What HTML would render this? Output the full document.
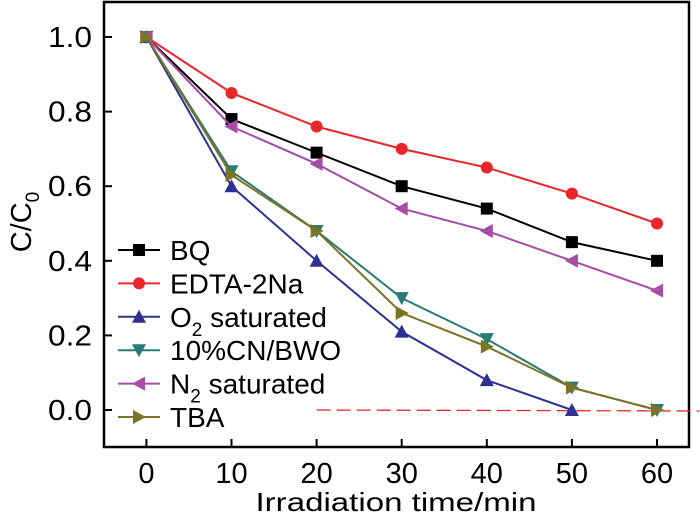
<!DOCTYPE html>
<html><head><meta charset="utf-8"><style>
body{margin:0;background:#fff}
svg{display:block;font-family:"Liberation Sans",sans-serif}
</style></head><body>
<svg id="chart" width="700" height="521"></svg>
<script>
const xValues=[0,10,20,30,40,50,60];
const bq=[1,0.78,0.69,0.60,0.54,0.45,0.40];
const edta=[1,0.85,0.76,0.70,0.65,0.58,0.50];
const o2=[1,0.60,0.40,0.21,0.08,0.0];
const cnbwo=[1,0.64,0.48,0.30,0.19,0.06,0.0];
const n2=[1,0.76,0.66,0.54,0.48,0.40,0.32];
const tba=[1,0.63,0.48,0.26,0.17,0.06,0.0];
const xTicks=[0,10,20,30,40,50,60];
const yTicks=[0.0,0.2,0.4,0.6,0.8,1.0];
const refLine=[20,65,0];
const NS="http://www.w3.org/2000/svg";
const svg=document.getElementById('chart');
const X=v=>146.4+v*8.51, Y=v=>410-v*373;
function el(t,a,p){const e=document.createElementNS(NS,t);for(const k in a)e.setAttribute(k,a[k]);(p||svg).appendChild(e);return e;}
const frame=el('rect',{x:104,y:2,width:585,height:445,fill:'none',stroke:'#000','stroke-width':2.5});


xTicks.forEach(t=>{
  const l=el('line',{x1:X(t),x2:X(t),y1:439,y2:447,stroke:'#000','stroke-width':2});
  
  
  const tx=el('text',{x:X(t),y:483,'text-anchor':'middle','font-size':29});
  tx.textContent=t;
  
  
});
yTicks.forEach(t=>{
  const l=el('line',{x1:104,x2:112,y1:Y(t),y2:Y(t),stroke:'#000','stroke-width':2});
  
  
  const tx=el('text',{x:92,y:Y(t)+10,'text-anchor':'end','font-size':29,textLength:44,lengthAdjust:'spacingAndGlyphs'});
  tx.textContent=t.toFixed(1);
  
  
});
const xt=el('text',{x:396,y:511,'text-anchor':'middle','font-size':26,textLength:281,lengthAdjust:'spacingAndGlyphs'});
xt.textContent='Irradiation time/min';


const yt=el('text',{transform:'translate(31,222) rotate(-90)','text-anchor':'middle','font-size':29});
yt.innerHTML='C/C<tspan font-size="19" dy="8">0</tspan>';


const rl=el('line',{x1:X(refLine[0]),x2:X(refLine[1]),y1:Y(refLine[2]),y2:Y(refLine[2])+1,stroke:'#e8262b','stroke-width':1.3,'stroke-dasharray':'14,6'});


function marker(kind,x,y,c,g){
  const s=6;let e;
  if(kind==='sq')e=el('rect',{x:x-s,y:y-s,width:2*s,height:2*s,fill:c},g);
  else if(kind==='ci')e=el('circle',{cx:x,cy:y,r:s,fill:c},g);
  else{let p;
    if(kind==='up')p=[[x,y-s-1],[x-s-1,y+s],[x+s+1,y+s]];
    if(kind==='dn')p=[[x,y+s+1],[x-s-1,y-s],[x+s+1,y-s]];
    if(kind==='lf')p=[[x-s-1,y],[x+s,y-s-1],[x+s,y+s+1]];
    if(kind==='rt')p=[[x+s+1,y],[x-s,y-s-1],[x-s,y+s+1]];
    e=el('polygon',{points:p.map(q=>q.join(',')).join(' '),fill:c},g);}
  return e;
}
const series=[
 {name:'BQ',data:bq,c:'#000000',m:'sq',id:'bq'},
 {name:'EDTA-2Na',data:edta,c:'#e8262b',m:'ci',id:'edta-2na'},
 {name:'O<tspan font-size="19" dy="9">2</tspan><tspan dy="-9"> saturated</tspan>',data:o2,c:'#2e3192',m:'up',id:'o2-saturated'},
 {name:'10%CN/BWO',data:cnbwo,c:'#2a7a76',m:'dn',id:'10cn-bwo'},
 {name:'N<tspan font-size="19" dy="9">2</tspan><tspan dy="-9"> saturated</tspan>',data:n2,c:'#a64ca6',m:'lf',id:'n2-saturated'},
 {name:'TBA',data:tba,c:'#7a7424',m:'rt',id:'tba'}
];
series.forEach((s,i)=>{
  const g=el('g',{});
  
  
  const pts=s.data.map((v,j)=>[X(xValues[j]),Y(v)]);
  el('polyline',{points:pts.map(p=>p.join(',')).join(' '),fill:'none',stroke:s.c,'stroke-width':2},g);
  pts.forEach(p=>{const m=marker(s.m,p[0],p[1],s.c,g);
    
    });
  const ly=250+i*33.4;
  const lg=el('g',{});
  
  
  el('line',{x1:118,x2:160,y1:ly,y2:ly,stroke:s.c,'stroke-width':2},lg);
  marker(s.m,139,ly,s.c,lg);
  const t=el('text',{x:170,y:ly+10,'font-size':28},lg);
  t.innerHTML=s.name;
});
</script>
</body></html>
